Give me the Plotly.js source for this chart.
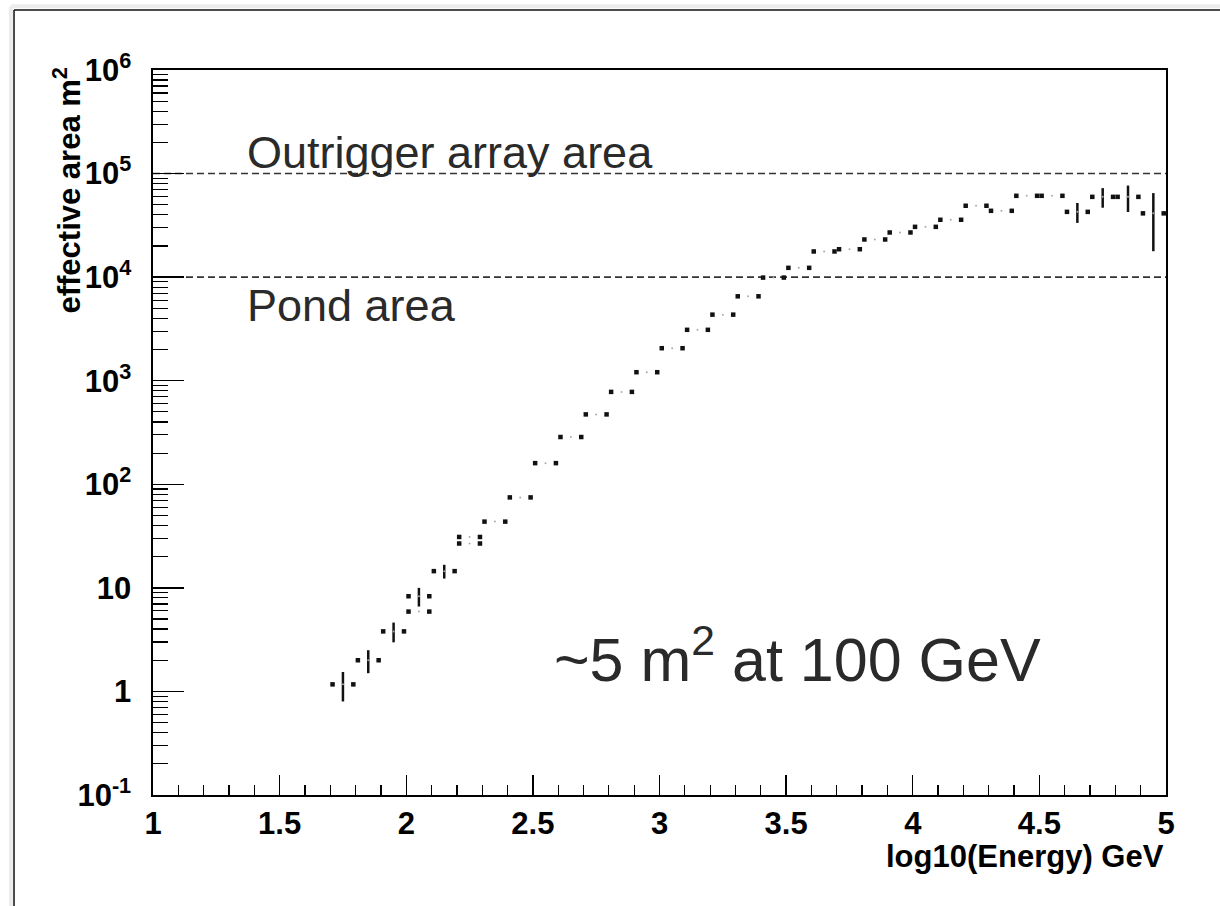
<!DOCTYPE html>
<html>
<head>
<meta charset="utf-8">
<script src="https://cdn.plot.ly/plotly-3.0.1.min.js"></script>
<style>
  html, body { margin: 0; padding: 0; background: #fff; }
  #chart { width: 1220px; height: 906px; }
</style>
</head>
<body>
<div id="chart"></div>
<script>
// ---- data ----
const energyLog = [1.75, 1.85, 1.95, 2.05, 2.15, 2.25, 2.35, 2.45, 2.55, 2.65, 2.75, 2.85, 2.95,
                   3.05, 3.15, 3.25, 3.35, 3.45, 3.55, 3.65, 3.75, 3.85, 3.95, 4.05, 4.15, 4.25,
                   4.35, 4.45, 4.55, 4.65, 4.75, 4.85, 4.95];
const effArea = [1.17, 2.0, 3.8, 8.3, 14.5, 31, 43.6, 74.7, 160, 286, 473, 780, 1208,
                 2060, 3100, 4345, 6530, 9900, 12300, 17700, 18600, 23100, 27000, 30600, 35800, 48900,
                 43700, 61000, 61000, 42700, 59600, 59600, 41300];
const effAreaErr = [0.37, 0.5, 0.82, 1.7, 2.2, 0, 0, 0, 0, 0, 0, 0, 0,
                    0, 0, 0, 0, 0, 0, 0, 0, 0, 0, 0, 0, 0,
                    0, 0, 0, 9300, 12800, 17000, 23500];
// second (overlaid) histogram, visible where it departs from the first
const energyLogB = [2.05, 2.25];
const effAreaB = [5.9, 26.8];

const refAreas = [1e5, 1e4];
const refLabels = ['Outrigger array area', 'Pond area'];
const noteText = '~5 m<sup>2</sup> at 100 GeV';

const xTickVals = [1, 1.5, 2, 2.5, 3, 3.5, 4, 4.5, 5];
const xTickText = ['1', '1.5', '2', '2.5', '3', '3.5', '4', '4.5', '5'];
const yTickVals = [0.1, 1, 10, 100, 1e3, 1e4, 1e5, 1e6];
const yTickText = ['10<sup>-1</sup>', '1', '10', '10<sup>2</sup>', '10<sup>3</sup>',
                   '10<sup>4</sup>', '10<sup>5</sup>', '10<sup>6</sup>'];

// ---- styling ----
const halfW = 0.041;          // where the bin error-bar end dots sit
const ink = '#111';
const boldFont = {family: 'Liberation Sans, Arial, sans-serif', size: 31, color: '#000', weight: 'bold'};
const lightFont = {family: 'Liberation Sans, Arial, sans-serif', color: '#2a2a2a'};

const yMinor = [];
for (let e = -1; e < 6; e++) for (let d = 2; d <= 9; d++) yMinor.push(d * Math.pow(10, e));

function binTraces(xs, ys, errs) {
  const out = [];
  out.push({
    x: xs, y: ys, type: 'scatter', mode: 'markers', hoverinfo: 'skip',
    marker: {size: 2, color: '#aaa'},
    error_y: errs ? {type: 'data', array: errs, visible: true, color: ink, thickness: 2.5, width: 0} : undefined
  });
  [-1, 1].forEach(s => {
    out.push({
      x: xs.map(v => v + s * halfW), y: ys, type: 'scatter', mode: 'markers', hoverinfo: 'skip',
      marker: {symbol: 'square', size: 4.5, color: ink}
    });
  });
  return out;
}

const traces = [];
refAreas.forEach(a => {
  traces.push({
    x: [xTickVals[0], xTickVals[xTickVals.length - 1]], y: [a, a],
    type: 'scatter', mode: 'lines', hoverinfo: 'skip',
    line: {color: '#333', width: 1.6, dash: '7px,4px'}
  });
});
traces.push(...binTraces(energyLog, effArea, effAreaErr));
traces.push(...binTraces(energyLogB, effAreaB, null));

const annotations = [
  {text: refLabels[0], xref: 'paper', yref: 'paper', x: 0.0905, y: 0.886, xanchor: 'left', yanchor: 'middle',
   showarrow: false, font: Object.assign({size: 45}, lightFont)},
  {text: refLabels[1], xref: 'paper', yref: 'paper', x: 0.0905, y: 0.675, xanchor: 'left', yanchor: 'middle',
   showarrow: false, font: Object.assign({size: 45}, lightFont)},
  {text: noteText, xref: 'paper', yref: 'paper', x: 0.394, y: 0.193, xanchor: 'left', yanchor: 'middle',
   showarrow: false, font: Object.assign({size: 61}, lightFont)},
  {text: 'effective area m<sup>2</sup>', xref: 'paper', yref: 'paper', x: -0.085, y: 1.006,
   xanchor: 'center', yanchor: 'top', textangle: -90, showarrow: false, font: boldFont},
  {text: 'log10(Energy) GeV', xref: 'paper', yref: 'paper', x: 1.0, y: -0.085,
   xanchor: 'right', yanchor: 'middle', showarrow: false, font: boldFont}
];

const shapes = [
  // outer frame of the picture (top and left edges), with a soft shadow
  {type: 'line', xref: 'paper', yref: 'paper', x0: -0.1402, x1: -0.1402, y0: 1.088, y1: -0.16, line: {color: '#ececec', width: 4}},
  {type: 'line', xref: 'paper', yref: 'paper', x0: -0.1402, x1: 1.06, y0: 1.088, y1: 1.088, line: {color: '#ececec', width: 4}},
  {type: 'line', xref: 'paper', yref: 'paper', x0: -0.1372, x1: -0.1372, y0: 1.0828, y1: -0.16, line: {color: '#111', width: 1.5}},
  {type: 'line', xref: 'paper', yref: 'paper', x0: -0.1372, x1: 1.06, y0: 1.0828, y1: 1.0828, line: {color: '#111', width: 1.5}}
];

const layout = {
  width: 1220, height: 906,
  margin: {l: 153, r: 54, t: 70, b: 111, pad: 0},
  paper_bgcolor: '#fff', plot_bgcolor: '#fff',
  showlegend: false,
  xaxis: {
    range: [1, 5], tickmode: 'array', tickvals: xTickVals, ticktext: xTickText,
    ticks: 'inside', ticklen: 20, tickwidth: 1.3, tickcolor: '#000',
    showline: true, linecolor: '#000', linewidth: 1.6, mirror: true,
    showgrid: false, zeroline: false, tickfont: boldFont, ticklabelstandoff: 0,
    minor: {ticks: 'inside', ticklen: 10, tickwidth: 1.2, tickcolor: '#000', tick0: 1, dtick: 0.1, showgrid: false}
  },
  yaxis: {
    type: 'log', range: [-1, 6], tickmode: 'array', tickvals: yTickVals, ticktext: yTickText,
    ticks: 'inside', ticklen: 31, tickwidth: 1.3, tickcolor: '#000',
    showline: true, linecolor: '#000', linewidth: 1.6, mirror: true,
    showgrid: false, zeroline: false, tickfont: boldFont, ticklabelstandoff: 14,
    minor: {tickmode: 'array', tickvals: yMinor, ticks: 'inside', ticklen: 15, tickwidth: 1.2, tickcolor: '#000', showgrid: false}
  },
  annotations: annotations,
  shapes: shapes
};

Plotly.newPlot('chart', traces, layout, {staticPlot: true, displayModeBar: false});
</script>
</body>
</html>
